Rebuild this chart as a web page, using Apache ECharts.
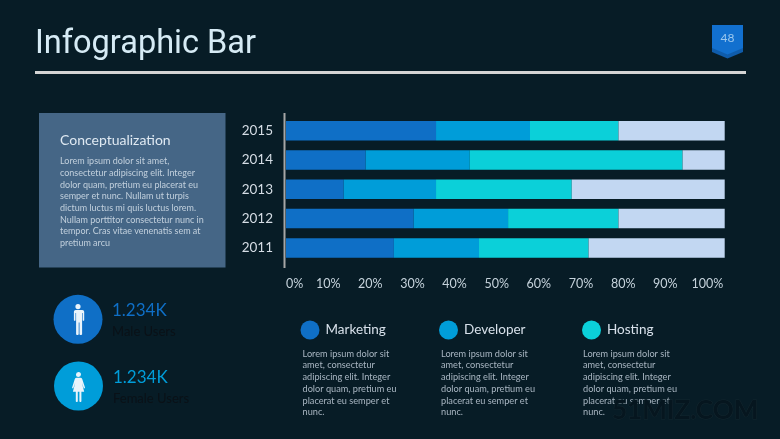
<!DOCTYPE html>
<html><head><meta charset="utf-8">
<style>html,body{margin:0;padding:0;background:#071c26}#c{width:780px;height:439px}</style>
<script src="https://cdn.jsdelivr.net/npm/echarts@6/dist/echarts.min.js"></script>
</head><body><div id="c"></div>
<script>
const years = ["2011","2012","2013","2014","2015"];
const marketing = [25.6,30.3,13.7,18.9,35.6];
const developer = [20.2,22.4,21.9,24.7,22.3];
const hosting   = [26.0,26.2,32.2,50.5,21.0];
const other     = [32.3,25.2,36.3,10.0,25.2];
const seriesNames = ["Marketing","Developer","Hosting","Other"];
const seriesColors = ["#0f6fc6","#009dd9","#0bd0d9","#c2d7f2"];
const cardTitle = "Conceptualization";
const cardLines = ["Lorem ipsum dolor sit amet,","consectetur adipiscing elit. Integer","dolor quam, pretium eu placerat eu","semper et nunc. Nullam ut turpis","dictum luctus mi quis luctus lorem.","Nullam porttitor consectetur nunc in","tempor. Cras vitae venenatis sem at","pretium arcu"];
const blurbLines = ["Lorem ipsum dolor sit","amet, consectetur","adipiscing elit. Integer","dolor quam, pretium eu","placerat eu semper et","nunc."];

const txt = (x,y,text,font,size,fill,extra) => ({type:'text',x,y,z:5,
  style:Object.assign({text,fontFamily:font,fontSize:size,fill,textVerticalAlign:'middle',textAlign:'left'},extra||{})});
const malePath = "M6.7 0a2.6 2.6 0 1 1-.01 0zM2.5 6h8.4c1.2 0 2 .8 2 2v8.2c0 .8-1.5.8-1.5 0V9h-.6v21.2c0 1-2.6 1-2.6 0V18.5h-.8v11.7c0 1-2.6 1-2.6 0V9h-.6v7.2c0 .8-1.6.8-1.6 0V8c0-1.2.7-2 1.9-2z";
const femalePath = "M6.7 0a2.5 2.5 0 1 1-.01 0zM4.8 5.8h3.8c.9 0 1.5.4 1.8 1.2l2.8 8.6c.2.8-1 1.1-1.3.4L10 10.5l2.4 9.3H9.6v9.4c0 1-2 1-2 0v-9.4H6v9.4c0 1-2 1-2 0v-9.4H1.1l2.4-9.3-1.9 5.5c-.3.7-1.5.4-1.3-.4L3 7c.3-.8.9-1.2 1.8-1.2z";
echarts.graphic.registerShape('maleIcon', echarts.graphic.extendPath(malePath, {}));
echarts.graphic.registerShape('femaleIcon', echarts.graphic.extendPath(femalePath, {}));

const graphic = [
  txt(35,44.5,"Infographic Bar","Roboto",32.5,"#d6ebf5"),
  {type:'rect',z:4,shape:{x:35,y:71,width:711,height:3},style:{fill:'#d4d4d4'}},
  {type:'polygon',z:4,shape:{points:[[712,25],[743,25],[743,52],[727.5,58.5],[712,52]]},style:{fill:'#0f5cab'}},
  {type:'polygon',z:5,shape:{points:[[712,25],[743,25],[743,48],[727.5,54.5],[712,48]]},style:{fill:'#1270cf'}},
  txt(727.5,38.5,"48","Lato",12,"#9cc8ee",{textAlign:'center'}),
  {type:'rect',z:4,shape:{x:39,y:113,width:186.5,height:154.5},style:{fill:'#456686'}},
  txt(60,140,cardTitle,"Lato",14,"#dfe9f2"),
  ...cardLines.map((l,i)=>txt(60,161.3+i*11.7,l,"Lato",9,"#c2d0dd")),
  {type:'rect',z:4,shape:{x:283.5,y:113,width:2,height:155},style:{fill:'#a6a6a6'}},
  {type:'circle',z:4,shape:{cx:78,cy:319.3,r:24.5},style:{fill:seriesColors[0]}},
  {type:'maleIcon',x:71.3,y:304,z:5,style:{fill:'#eaf4fb'}},
  {type:'circle',z:4,shape:{cx:78.5,cy:386,r:24.5},style:{fill:seriesColors[1]}},
  {type:'femaleIcon',x:71.8,y:372,z:5,style:{fill:'#eaf4fb'}},
  txt(112,311,"1.234K","Lato",17,seriesColors[0]),
  txt(112,331.5,"Male Users","Lato",13,"#0a1117"),
  txt(113,377.5,"1.234K","Lato",17,seriesColors[1]),
  txt(113,398.5,"Female Users","Lato",13,"#0a1117"),
  ...[302.5,441,583].flatMap(x=>blurbLines.map((l,i)=>txt(x,353.7+i*11.75,l,"Lato",9.2,"#a9b6c2"))),
  txt(612,410.5,"51MIZ.COM","Lato",26,"#06161f",{fontWeight:'bold',stroke:'#14272f',lineWidth:1})
];

const makeLegend = (i,left)=>({data:[seriesNames[i]],left,top:320.5,orient:'horizontal',icon:'circle',
  itemWidth:19,itemHeight:19,selectedMode:false,padding:0,
  textStyle:{color:'#d7e0ea',fontFamily:'Lato',fontSize:13.5,padding:[0,0,0,1]}});

const mk = (name,data,color)=>({name,type:'bar',stack:'t',data,barWidth:19.5,itemStyle:{color},silent:true});

const chart = echarts.init(document.getElementById('c'),null,{renderer:'canvas'});
chart.setOption({
  animation:false,
  backgroundColor:'#071c26',
  legend:[makeLegend(0,300.5),makeLegend(1,439),makeLegend(2,582)],
  grid:{left:286,top:116,width:438.7,height:146.6,containLabel:false},
  xAxis:{type:'value',min:0,max:104.1,interval:10,splitLine:{show:false},axisLine:{show:false},axisTick:{show:false},
    axisLabel:{margin:15,color:'#c6d3dc',fontFamily:'Lato',fontSize:12.5,formatter:'{value}%',showMaxLabel:false,alignMinLabel:'left'}},
  yAxis:{type:'category',data:years,axisLine:{show:false},axisTick:{show:false},
    axisLabel:{margin:13,color:'#d5dde5',fontFamily:'Lato',fontSize:13.5}},
  series:[mk(seriesNames[0],marketing,seriesColors[0]),mk(seriesNames[1],developer,seriesColors[1]),mk(seriesNames[2],hosting,seriesColors[2]),mk(seriesNames[3],other,seriesColors[3])],
  graphic:{elements:graphic}
});
</script></body></html>
